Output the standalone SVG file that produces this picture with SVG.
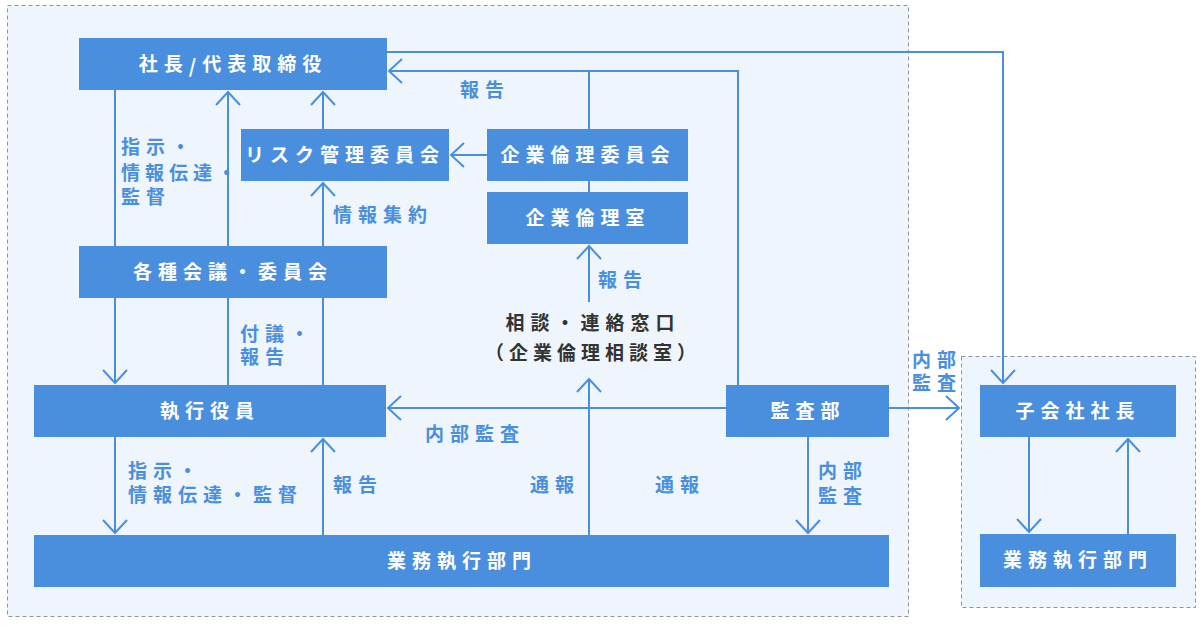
<svg xmlns="http://www.w3.org/2000/svg" width="1200" height="628" viewBox="0 0 1200 628">
<style>
.frame{fill:#EEF5FD;stroke:#8f959c;stroke-width:1;stroke-dasharray:4 3}
.box{fill:#4A8FDD}
.bt{font-family:"Liberation Sans","Noto Sans CJK JP",sans-serif;font-weight:700;font-size:19px;fill:#ffffff;letter-spacing:6px;text-anchor:middle;dominant-baseline:central}
.lb{font-family:"Liberation Sans","Noto Sans CJK JP",sans-serif;font-weight:700;font-size:19px;fill:#4A8FDD;letter-spacing:6px;dominant-baseline:central}
.dk{font-family:"Liberation Sans","Noto Sans CJK JP",sans-serif;font-weight:700;font-size:19px;fill:#333333;letter-spacing:6px;text-anchor:middle;dominant-baseline:central}
.ln{fill:none;stroke:#4A8FDD;stroke-width:2}
.ar{marker-end:url(#arr)}
</style>
<defs>
<marker id="arr" markerUnits="userSpaceOnUse" markerWidth="18" markerHeight="28" viewBox="0 0 18 28" refX="15" refY="14" orient="auto">
<path d="M2,2 L15,14 L2,26" fill="none" stroke="#4A8FDD" stroke-width="2"/>
</marker>
</defs>
<rect class="frame" x="7.5" y="5.5" width="901" height="611"/>
<rect class="frame" x="961.5" y="356.5" width="234" height="251"/>

<g id="connectors">
<polyline class="ln ar" points="387,52 1003,52 1003,383"/>
<polyline class="ln ar" points="738,385 738,71 389,71"/>
<line class="ln" x1="589" y1="129" x2="589" y2="71"/>
<line class="ln ar" x1="115" y1="90" x2="115" y2="383"/>
<line class="ln ar" x1="228" y1="385" x2="228" y2="92"/>
<line class="ln ar" x1="323" y1="129" x2="323" y2="92"/>
<line class="ln ar" x1="323" y1="385" x2="323" y2="183"/>
<line class="ln ar" x1="487" y1="155" x2="451" y2="155"/>
<line class="ln" x1="589" y1="181" x2="589" y2="192"/>
<line class="ln ar" x1="589" y1="302" x2="589" y2="246"/>
<line class="ln ar" x1="589" y1="535" x2="589" y2="379"/>
<line class="ln ar" x1="726" y1="408" x2="388" y2="408"/>
<line class="ln ar" x1="889" y1="408" x2="959" y2="408"/>
<line class="ln ar" x1="115" y1="437" x2="115" y2="533"/>
<line class="ln ar" x1="323" y1="535" x2="323" y2="439"/>
<line class="ln ar" x1="808" y1="437" x2="808" y2="533"/>
<line class="ln ar" x1="1029" y1="437" x2="1029" y2="532"/>
<line class="ln ar" x1="1128" y1="534" x2="1128" y2="439"/>
</g>

<g id="n-president"><rect class="box" x="79" y="38" width="308" height="52"/><text class="bt" x="233" y="64">社長<tspan style="font-family:'Noto Sans CJK JP',sans-serif">/</tspan>代表取締役</text></g>
<g id="n-risk"><rect class="box" x="241" y="129" width="208" height="52"/><text class="bt" x="345" y="155">リスク管理委員会</text></g>
<g id="n-ethics-committee"><rect class="box" x="487" y="129" width="201" height="52"/><text class="bt" x="588" y="155">企業倫理委員会</text></g>
<g id="n-ethics-office"><rect class="box" x="487" y="192" width="201" height="52"/><text class="bt" x="588" y="218">企業倫理室</text></g>
<g id="n-meetings"><rect class="box" x="79" y="246" width="308" height="52"/><text class="bt" x="233" y="272">各種会議・委員会</text></g>
<g id="n-officers"><rect class="box" x="34" y="385" width="352" height="52"/><text class="bt" x="210" y="411">執行役員</text></g>
<g id="n-audit"><rect class="box" x="726" y="385" width="163" height="52"/><text class="bt" x="808" y="411">監査部</text></g>
<g id="n-business"><rect class="box" x="34" y="535" width="855" height="52"/><text class="bt" x="462" y="561">業務執行部門</text></g>
<g id="n-sub-president"><rect class="box" x="980" y="385" width="196" height="52"/><text class="bt" x="1078" y="411">子会社社長</text></g>
<g id="n-sub-business"><rect class="box" x="980" y="534" width="196" height="53"/><text class="bt" x="1078" y="560">業務執行部門</text></g>
<g id="n-window"><text class="dk" x="593" y="323">相談・連絡窓口</text><text class="dk" x="593" y="353" style="letter-spacing:5px">（企業倫理相談室）</text></g>

<g id="labels">
<text class="lb" x="460" y="90">報告</text>
<text class="lb" x="121" y="147">指示・</text>
<text class="lb" x="121" y="173" style="letter-spacing:5px">情報伝達・</text>
<text class="lb" x="121" y="197">監督</text>
<text class="lb" x="333" y="215">情報集約</text>
<text class="lb" x="240" y="334">付議・</text>
<text class="lb" x="240" y="357">報告</text>
<text class="lb" x="598" y="280">報告</text>
<text class="lb" x="425" y="434">内部監査</text>
<text class="lb" x="128" y="471">指示・</text>
<text class="lb" x="128" y="495">情報伝達・監督</text>
<text class="lb" x="333" y="485">報告</text>
<text class="lb" x="530" y="485">通報</text>
<text class="lb" x="655" y="485">通報</text>
<text class="lb" x="818" y="471">内部</text>
<text class="lb" x="818" y="496">監査</text>
<text class="lb" x="912" y="360">内部</text>
<text class="lb" x="912" y="383">監査</text>
</g>
</svg>
